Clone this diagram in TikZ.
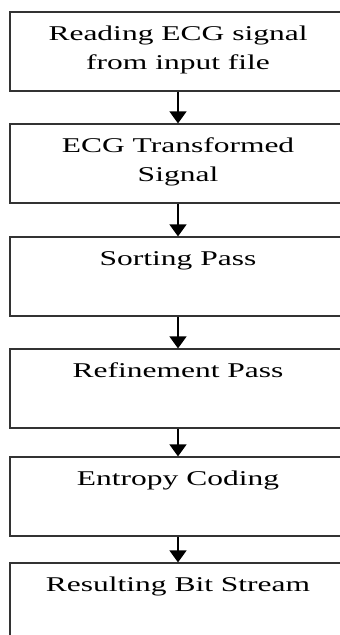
\documentclass[tikz,border=0pt]{standalone}
\usepackage{fontspec}
\setmainfont[FakeStretch=1.5]{Liberation Serif}
\usetikzlibrary{arrows.meta}
% strut that puts the first baseline 29pt below the top of the box
\newcommand\capstrut{\rule{0pt}{29pt}}
\begin{document}
\begin{tikzpicture}[x=1pt,y=-1pt,
  stage/.style={draw=black!80,line width=1.2pt,minimum width=336pt,minimum height=79pt,inner sep=0pt},
  caption/.style={anchor=north,inner sep=0pt,align=center,
    font=\fontsize{21}{29}\selectfont},
  flow/.style={line width=1.3pt,-{Triangle[width=17pt,length=12pt]}}]
\useasboundingbox (0,0) rectangle (340,635);
\clip (0,0) rectangle (340,635);
% processing stages, top to bottom
\node[stage] (s1) at (178,51.5) {};
\node[stage] (s2) at (178,163.5) {};
\node[stage] (s3) at (178,276.5) {};
\node[stage] (s4) at (178,388.5) {};
\node[stage] (s5) at (178,496.5) {};
\node[stage] (s6) at (178,602.5) {};
% stage labels, set near the top of each box
\node[caption] (t1) at (s1.north) {\capstrut Reading ECG signal\\from input file};
\node[caption] (t2) at (s2.north) {\capstrut ECG Transformed\\Signal};
\node[caption] (t3) at (s3.north) {\capstrut Sorting Pass};
\node[caption] (t4) at (s4.north) {\capstrut Refinement Pass};
\node[caption] (t5) at (s5.north) {\capstrut Entropy Coding};
\node[caption] (t6) at (s6.north) {\capstrut Resulting Bit Stream};
% flow arrows
\draw[flow] (s1.south) -- (s2.north);
\draw[flow] (s2.south) -- (s3.north);
\draw[flow] (s3.south) -- (s4.north);
\draw[flow] (s4.south) -- (s5.north);
\draw[flow] (s5.south) -- (s6.north);
\end{tikzpicture}
\end{document}
